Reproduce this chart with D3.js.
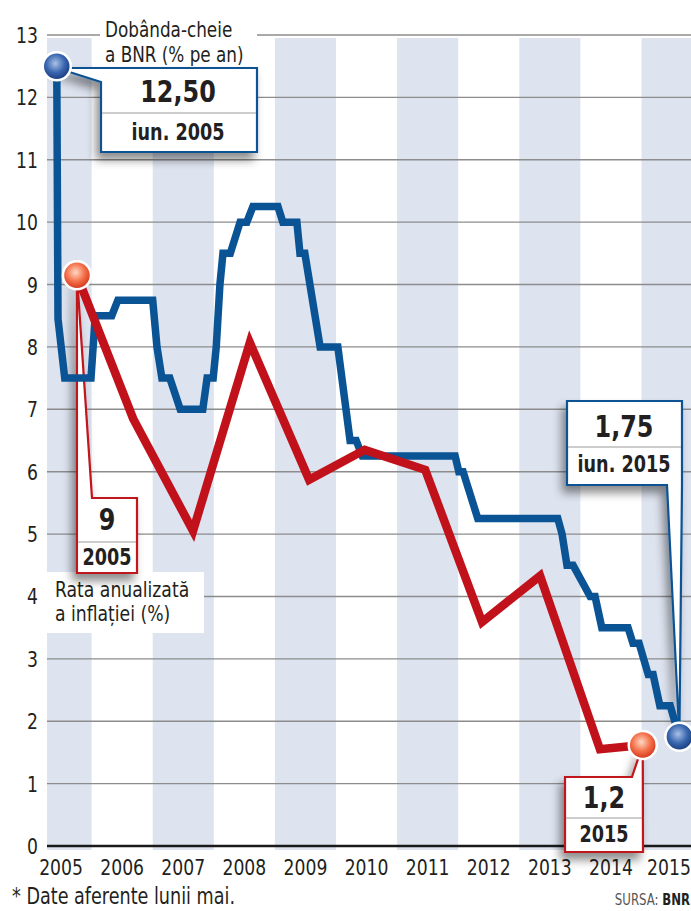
<!DOCTYPE html>
<html>
<head>
<meta charset="utf-8">
<script src="https://cdn.jsdelivr.net/npm/d3@7/dist/d3.min.js"></script>
<style>
	body { margin: 0; background: #fff; }
	svg { display: block; font-family: 'DejaVu Sans Condensed', 'DejaVu Sans', sans-serif; }
</style>
</head>
<body>
<svg id="chart" width="691" height="911"></svg>
<script>
// ani afisati pe axa si benzile colorate
const years = [2005, 2006, 2007, 2008, 2009, 2010, 2011, 2012, 2013, 2014, 2015];
const bandYears = [2005, 2007, 2009, 2011, 2013, 2015];
const yTicks = [0, 1, 2, 3, 4, 5, 6, 7, 8, 9, 10, 11, 12, 13];

// dobanda-cheie BNR (% pe an), [an fractionar, valoare]
const keyRate = [
	[2005.43, 12.5], [2005.45, 8.45], [2005.56, 7.5], [2005.99, 7.5], [2006.06, 8.5],
	[2006.33, 8.5], [2006.43, 8.75], [2007.0, 8.75], [2007.07, 8.0], [2007.15, 7.5],
	[2007.28, 7.5], [2007.45, 7.0], [2007.82, 7.0], [2007.89, 7.5], [2007.99, 7.5],
	[2008.04, 8.0], [2008.10, 9.0], [2008.15, 9.5], [2008.27, 9.5], [2008.43, 10.0],
	[2008.54, 10.0], [2008.64, 10.25], [2009.05, 10.25], [2009.13, 10.0], [2009.36, 10.0],
	[2009.41, 9.5], [2009.49, 9.5], [2009.74, 8.0], [2010.03, 8.0], [2010.23, 6.5],
	[2010.33, 6.5], [2010.43, 6.25], [2011.95, 6.25], [2012.01, 6.0], [2012.08, 6.0],
	[2012.32, 5.25], [2013.63, 5.25], [2013.70, 5.0], [2013.78, 4.5], [2013.88, 4.5],
	[2014.16, 4.0], [2014.24, 4.0], [2014.35, 3.5], [2014.78, 3.5], [2014.86, 3.25],
	[2014.96, 3.25], [2015.11, 2.75], [2015.19, 2.75], [2015.30, 2.25], [2015.47, 2.25],
	[2015.62, 1.75]
];

// rata anualizata a inflatiei (%)
const inflation = [
	[2005.76, 9.15], [2006.68, 6.85], [2007.66, 5.05], [2008.59, 8.07], [2009.56, 5.87],
	[2010.47, 6.35], [2011.46, 6.03], [2012.39, 3.59], [2013.34, 4.33], [2014.32, 1.55],
	[2015.02, 1.62]
];

const blue = '#0a5394';
const red = '#c1121c';
const ink = '#231f20';
const left = 47, right = 691;
const squeeze = 0.87;

let svg = d3.select('#chart');

let x = d3.scaleLinear()
	.domain([2005, 2016])
	.range([30.5, 30.5 + 61.1 * 11]);

let y = d3.scaleLinear()
	.domain([0, 13])
	.range([846, 35]);

// text ingustat (fontul original e condensat)
function place(px, py) {
	return 'translate(' + px + ',' + py + ') scale(' + squeeze + ',1)';
}

function label(parent, str, px, py, size, anchor, weight, color) {
	return parent.append('text')
		.attr('transform', place(px, py))
		.attr('text-anchor', anchor || 'start')
		.attr('font-size', size)
		.attr('font-weight', weight || 'normal')
		.attr('fill', color || ink)
		.text(str);
}

let defs = svg.append('defs');

let shadow = defs.append('filter')
	.attr('id', 'shadow')
	.attr('x', '-30%').attr('y', '-30%')
	.attr('width', '160%').attr('height', '170%');
shadow.append('feDropShadow')
	.attr('dx', -4).attr('dy', 7)
	.attr('stdDeviation', 5)
	.attr('flood-color', '#000')
	.attr('flood-opacity', 0.45);

function ball(id, light, mid, dark) {
	let g = defs.append('radialGradient')
		.attr('id', id)
		.attr('cx', '45%').attr('cy', '40%').attr('r', '60%')
		.attr('fx', '45%').attr('fy', '40%');
	g.append('stop').attr('offset', '0%').attr('stop-color', light);
	g.append('stop').attr('offset', '55%').attr('stop-color', mid);
	g.append('stop').attr('offset', '100%').attr('stop-color', dark);
}
ball('ballBlue', '#a9c1e6', '#3a67b0', '#163a7a');
ball('ballRed', '#ffd9c4', '#f4704a', '#d2331a');

// benzi verticale
svg.append('g')
	.selectAll('rect')
	.data(bandYears)
	.enter()
	.append('rect')
	.attr('x', d => Math.max(left, x(d)))
	.attr('width', d => Math.min(right, x(d + 1)) - Math.max(left, x(d)))
	.attr('y', 38)
	.attr('height', 850 - 38)
	.attr('fill', '#dde3ef');

// linii de grila
svg.append('g')
	.selectAll('line')
	.data(yTicks.filter(d => d > 0))
	.enter()
	.append('line')
	.attr('x1', left).attr('x2', right)
	.attr('y1', d => y(d)).attr('y2', d => y(d))
	.attr('stroke', '#8c8c8c')
	.attr('stroke-width', 1.4);

svg.append('line')
	.attr('x1', left).attr('x2', right)
	.attr('y1', y(0)).attr('y2', y(0))
	.attr('stroke', '#1a1a1a')
	.attr('stroke-width', 2.6);

// etichete axe
svg.append('g')
	.selectAll('text')
	.data(yTicks)
	.enter()
	.append('text')
	.attr('transform', d => place(38, y(d) + 8))
	.attr('text-anchor', 'end')
	.attr('font-size', 22)
	.attr('fill', ink)
	.text(d => d);

svg.append('g')
	.selectAll('text')
	.data(years)
	.enter()
	.append('text')
	.attr('transform', d => place(Math.min(x(d + 0.5), 669), 875))
	.attr('text-anchor', 'middle')
	.attr('font-size', 22)
	.attr('fill', ink)
	.text(d => d);

// titlu serie albastra
svg.append('rect')
	.attr('x', 100).attr('y', 0)
	.attr('width', 157).attr('height', 68)
	.attr('fill', '#fff');
label(svg, 'Dobânda-cheie', 105, 37, 21.5);
label(svg, 'a BNR (% pe an)', 105, 62, 21.5);

// titlu serie rosie
svg.append('rect')
	.attr('x', left).attr('y', 572)
	.attr('width', 157).attr('height', 61)
	.attr('fill', '#fff');
label(svg, 'Rata anualizată', 55, 597, 22);
label(svg, 'a inflației (%)', 55, 621, 22);

// casete cu valori
let rStart = keyRate[0], rEnd = keyRate[keyRate.length - 1];
let iStart = inflation[0], iEnd = inflation[inflation.length - 1];

let callouts = [
	{ color: blue, path: `M${x(rStart[0])},68 H257 V152 H101 V82 Z`, x1: 101, x2: 257, div: 113,
		cx: 178, big: '12,50', bigY: 102, small: 'iun. 2005', smallY: 140 },
	{ color: red, path: `M${x(iStart[0])},${y(iStart[1])} L92,498 H137 V573 H${x(iStart[0])} Z`, x1: 77, x2: 137, div: 542,
		cx: 107, big: '9', bigY: 530, small: '2005', smallY: 565 },
	{ color: blue, path: `M567,401 H682 V485 L${x(rEnd[0])},${y(rEnd[1])} L667,485 H567 Z`, x1: 567, x2: 682, div: 447,
		cx: 624, big: '1,75', bigY: 437, small: 'iun. 2015', smallY: 472 },
	{ color: red, path: `M565,777 H632 L${x(iEnd[0])},${y(iEnd[1])} L643,852 H565 Z`, x1: 565, x2: 643, div: 818,
		cx: 604, big: '1,2', bigY: 808, small: '2015', smallY: 842 }
];

let c = svg.append('g')
	.selectAll('g')
	.data(callouts)
	.enter()
	.append('g');

c.append('path')
	.attr('d', d => d.path)
	.attr('fill', '#fff')
	.attr('stroke', d => d.color)
	.attr('stroke-width', 2.2)
	.attr('stroke-linejoin', 'miter')
	.attr('filter', 'url(#shadow)');

c.append('line')
	.attr('x1', d => d.x1 + 1).attr('x2', d => d.x2 - 1)
	.attr('y1', d => d.div).attr('y2', d => d.div)
	.attr('stroke', '#9a9a9a')
	.attr('stroke-width', 1);

c.append('text')
	.attr('transform', d => place(d.cx, d.bigY))
	.attr('text-anchor', 'middle')
	.attr('font-size', 30.5)
	.attr('font-weight', 'bold')
	.attr('fill', ink)
	.text(d => d.big);

c.append('text')
	.attr('transform', d => place(d.cx, d.smallY))
	.attr('text-anchor', 'middle')
	.attr('font-size', 22.5)
	.attr('font-weight', 'bold')
	.attr('fill', ink)
	.text(d => d.small);

// liniile
let line = d3.line()
	.x(d => x(d[0]))
	.y(d => y(d[1]));

svg.append('path')
	.datum(keyRate)
	.attr('d', line)
	.attr('fill', 'none')
	.attr('stroke', blue)
	.attr('stroke-width', 7.5)
	.attr('stroke-linejoin', 'miter');

svg.append('path')
	.datum(inflation)
	.attr('d', line)
	.attr('fill', 'none')
	.attr('stroke', red)
	.attr('stroke-width', 8.5)
	.attr('stroke-linejoin', 'miter')
	.attr('stroke-miterlimit', 10);

// bile la capete
let balls = [
	{ p: rStart, fill: 'url(#ballBlue)' },
	{ p: rEnd, fill: 'url(#ballBlue)' },
	{ p: iStart, fill: 'url(#ballRed)' },
	{ p: iEnd, fill: 'url(#ballRed)' }
];

svg.append('g')
	.selectAll('circle')
	.data(balls)
	.enter()
	.append('circle')
	.attr('cx', d => x(d.p[0]))
	.attr('cy', d => y(d.p[1]))
	.attr('r', 14)
	.attr('fill', d => d.fill)
	.attr('stroke', '#fff')
	.attr('stroke-width', 2.5);

// note
label(svg, '* Date aferente lunii mai.', 12, 904, 22.5);

let src = svg.append('text')
	.attr('transform', place(690, 905))
	.attr('text-anchor', 'end')
	.attr('font-size', 15)
	.attr('fill', '#555');
src.append('tspan').text('SURSA: ');
src.append('tspan').attr('font-weight', 'bold').attr('fill', ink).text('BNR');
</script>
</body>
</html>
